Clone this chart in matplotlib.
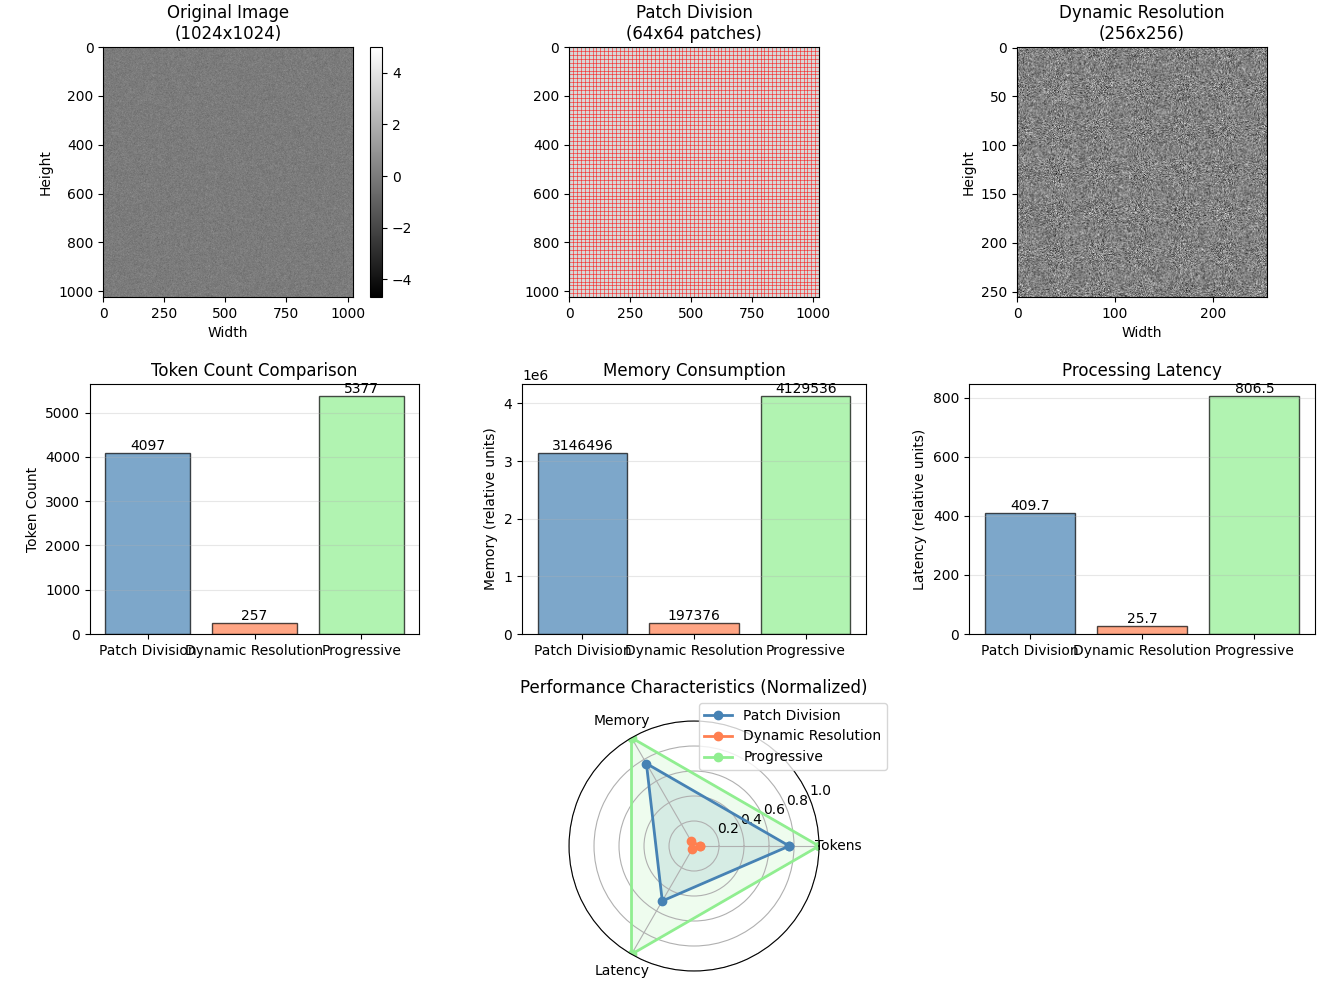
import numpy as np
import matplotlib
matplotlib.use("Agg")
import matplotlib.pyplot as plt
from matplotlib.gridspec import GridSpec

# data
methods = ['Patch Division', 'Dynamic Resolution', 'Progressive']
colors = ['steelblue', 'coral', 'lightgreen']
token_counts = [4097, 257, 5377]
memory_units = [3146496, 197376, 4129536]
latency_units = [409.7, 25.7, 806.5]
latency_labels = ['409.7', '25.7', '806.5']
radar_axes = ['Tokens', 'Memory', 'Latency']

img_size = 1024
patch_size = 16
dyn_size = 256

# noise texture for the image panels
rng = np.random.default_rng(0)
image = rng.standard_normal((img_size, img_size))
f = img_size // dyn_size
dyn_image = image.reshape(dyn_size, f, dyn_size, f).mean(axis=(1, 3))

fig = plt.figure(figsize=(13.24, 9.88), dpi=100)
gs = GridSpec(3, 3, figure=fig, left=0.068, right=0.9932, top=0.9524, bottom=0.0172,
              wspace=0.303, hspace=0.348, width_ratios=[329, 344, 346])

# original image
ax1 = fig.add_subplot(gs[0, 0])
im = ax1.imshow(image, cmap='gray')
ax1.set_title('Original Image\n(%dx%d)' % (img_size, img_size))
ax1.set_xlabel('Width')
ax1.set_ylabel('Height')
plt.colorbar(im, ax=ax1)

# patch division
ax2 = fig.add_subplot(gs[0, 1])
ax2.imshow(image, cmap='gray', alpha=0.3)
n_patch = img_size // patch_size
edges = np.arange(0, img_size + 1, patch_size)
ax2.vlines(edges, 0, img_size, colors='red', linewidth=0.5, alpha=0.7)
ax2.hlines(edges, 0, img_size, colors='red', linewidth=0.5, alpha=0.7)
ax2.set_xlim(-0.5, img_size - 0.5)
ax2.set_ylim(img_size - 0.5, -0.5)
ax2.set_title('Patch Division\n(%dx%d patches)' % (n_patch, n_patch))

# dynamic resolution
ax3 = fig.add_subplot(gs[0, 2])
ax3.imshow(dyn_image, cmap='gray')
ax3.set_title('Dynamic Resolution\n(%dx%d)' % (dyn_size, dyn_size))
ax3.set_xlabel('Width')
ax3.set_ylabel('Height')


def bar_panel(ax, vals, labels, title, ylabel):
    bars = ax.bar(methods, vals, color=colors, alpha=0.7, edgecolor='black')
    for b, lab in zip(bars, labels):
        ax.text(b.get_x() + b.get_width() / 2, b.get_height(), lab,
                ha='center', va='bottom')
    ax.set_title(title)
    ax.set_ylabel(ylabel)
    ax.grid(True, axis='y', alpha=0.3)


bar_panel(fig.add_subplot(gs[1, 0]), token_counts,
          [str(v) for v in token_counts], 'Token Count Comparison', 'Token Count')
bar_panel(fig.add_subplot(gs[1, 1]), memory_units,
          [str(v) for v in memory_units], 'Memory Consumption', 'Memory (relative units)')
bar_panel(fig.add_subplot(gs[1, 2]), latency_units,
          latency_labels, 'Processing Latency', 'Latency (relative units)')

# radar chart
ax7 = fig.add_subplot(gs[2, 1], projection='polar')
angles = np.linspace(0, 2 * np.pi, len(radar_axes), endpoint=False).tolist()
angles += angles[:1]
metrics = np.array([token_counts, memory_units, latency_units], dtype=float)
norm = metrics / metrics.max(axis=1, keepdims=True)
for i, m in enumerate(methods):
    vals = norm[:, i].tolist()
    vals += vals[:1]
    ax7.plot(angles, vals, 'o-', linewidth=2, color=colors[i], label=m)
    ax7.fill(angles, vals, color=colors[i], alpha=0.15)
ax7.set_xticks(angles[:-1])
ax7.set_xticklabels(radar_axes)
ax7.set_ylim(0, 1)
ax7.set_title('Performance Characteristics (Normalized)', pad=20)
ax7.legend(loc='upper right', bbox_to_anchor=(1.3, 1.1))

plt.savefig('out.png', dpi=100)
